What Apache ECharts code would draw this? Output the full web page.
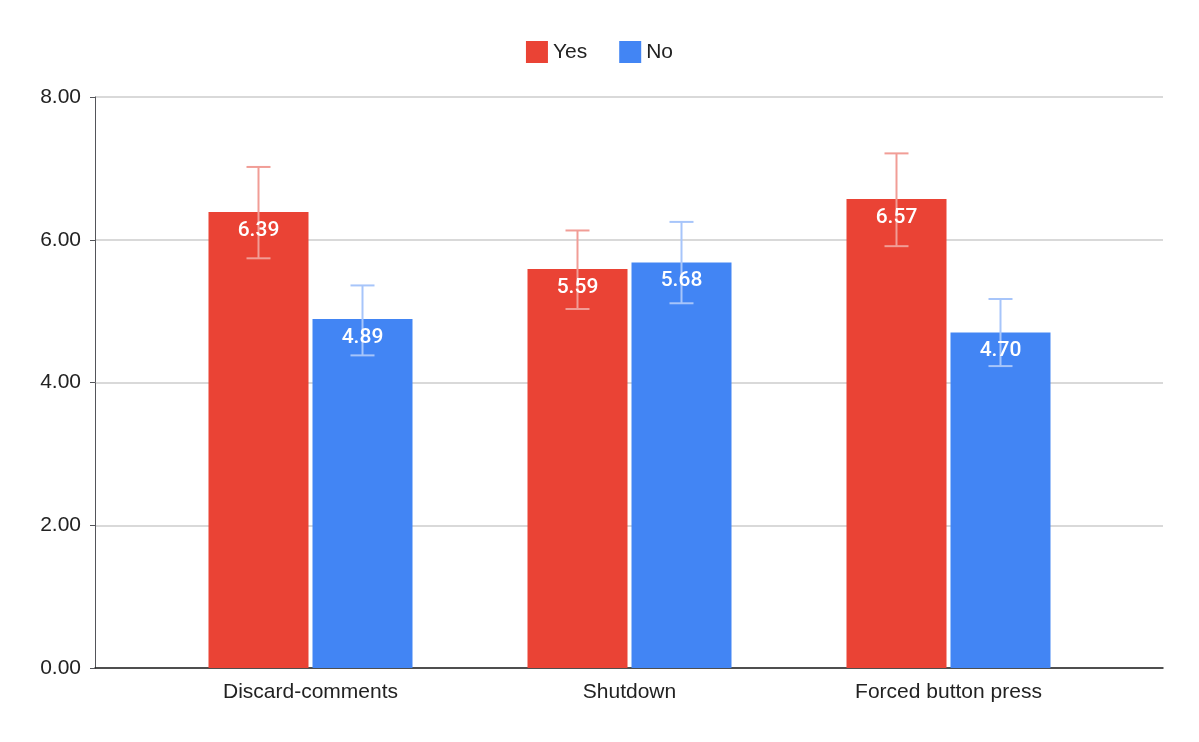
<!DOCTYPE html>
<html lang="en">
<head>
    <meta charset="UTF-8">
    <title>Yes / No chart</title>
    <script src="https://cdn.jsdelivr.net/npm/echarts@6/dist/echarts.min.js"></script>
    <style>
        html, body { margin: 0; padding: 0; background: #fff; }
        #chart { width: 1199px; height: 742px; }
    </style>
</head>
<body>
    <div id="chart"></div>
    <script>
        // Data
        var categories = ['Discard-comments', 'Shutdown', 'Forced button press'];
        var yesValues = [6.39, 5.59, 6.57];
        var noValues = [4.89, 5.68, 4.70];
        var yesLow = [5.74, 5.03, 5.91];
        var yesHigh = [7.02, 6.13, 7.21];
        var noLow = [4.38, 5.11, 4.23];
        var noHigh = [5.36, 6.25, 5.17];
        var yTicks = [0, 2, 4, 6, 8];

        var chart = echarts.init(document.getElementById('chart'));

        // error bar + value label drawn on top of the bar
        function errorSeries(name, values, lows, highs, offset, color) {
            return {
                type: 'custom',
                name: name + '-err',
                xAxisIndex: 1,
                yAxisIndex: 1,
                z: 5,
                silent: true,
                data: categories.map(function (c, i) { return [i, values[i], lows[i], highs[i]]; }),
                renderItem: function (params, api) {
                    var top = api.coord([api.value(0), api.value(3)]);
                    var bot = api.coord([api.value(0), api.value(2)]);
                    var val = api.coord([api.value(0), api.value(1)]);
                    var x = top[0] + offset;
                    var st = { stroke: color, lineWidth: 2 };
                    return {
                        type: 'group',
                        children: [
                            { type: 'line', shape: { x1: x, y1: top[1], x2: x, y2: bot[1] }, style: st },
                            { type: 'line', shape: { x1: x - 12, y1: top[1], x2: x + 12, y2: top[1] }, style: st },
                            { type: 'line', shape: { x1: x - 12, y1: bot[1], x2: x + 12, y2: bot[1] }, style: st },
                            {
                                type: 'text',
                                x: x, y: val[1] + 8,
                                style: {
                                    text: api.value(1).toFixed(2),
                                    fill: '#fff', fontSize: 21, fontFamily: 'Roboto',
                                    fontWeight: 500,
                                    align: 'center', verticalAlign: 'top'
                                }
                            }
                        ]
                    };
                }
            };
        }

        var yBase = {
            type: 'value',
            min: yTicks[0],
            max: yTicks[yTicks.length - 1],
            interval: 2
        };

        chart.setOption({
            animation: false,
            textStyle: { fontFamily: 'Liberation Sans' },
            legend: {
                top: 36,
                left: 'center',
                itemWidth: 22,
                itemHeight: 22,
                itemGap: 32,
                icon: 'rect',
                textStyle: { fontSize: 21, color: '#222', fontFamily: 'Liberation Sans' },
                data: ['Yes', 'No']
            },
            grid: [
                { left: 95, right: 36, top: 97, bottom: 74 },
                { left: 151, right: 91, top: 97, bottom: 74 }
            ],
            xAxis: [
                {
                    type: 'value', gridIndex: 0, min: 0, max: 1,
                    axisLabel: { show: false }, axisTick: { show: false },
                    splitLine: { show: false },
                    axisLine: { show: true, onZero: false, lineStyle: { color: '#222', width: 1.5 } }
                },
                {
                    type: 'category', gridIndex: 1,
                    data: categories,
                    axisTick: { show: false },
                    axisLine: { show: false },
                    axisLabel: { fontSize: 21, color: '#222', margin: 14, fontFamily: 'Liberation Sans' }
                }
            ],
            yAxis: [
                Object.assign({}, yBase, {
                    gridIndex: 0,
                    axisLabel: {
                        fontSize: 21, color: '#222', margin: 14, fontFamily: 'Liberation Sans',
                        formatter: function (v) { return v.toFixed(2); }
                    },
                    splitLine: { lineStyle: { color: '#ccc', width: 1.5 } }
                }),
                Object.assign({}, yBase, {
                    gridIndex: 1, show: false, splitLine: { show: false }
                })
            ],
            series: [
                { type: 'bar', name: 'Yes', xAxisIndex: 1, yAxisIndex: 1, data: yesValues, barWidth: 100, barGap: '4%', itemStyle: { color: '#ea4335' } },
                { type: 'bar', name: 'No', xAxisIndex: 1, yAxisIndex: 1, data: noValues, barWidth: 100, barGap: '4%', itemStyle: { color: '#4285f4' } },
                errorSeries('Yes', yesValues, yesLow, yesHigh, -52, '#f19d96'),
                errorSeries('No', noValues, noLow, noHigh, 52, '#a7c5fa')
            ]
        });
    </script>
</body>
</html>
